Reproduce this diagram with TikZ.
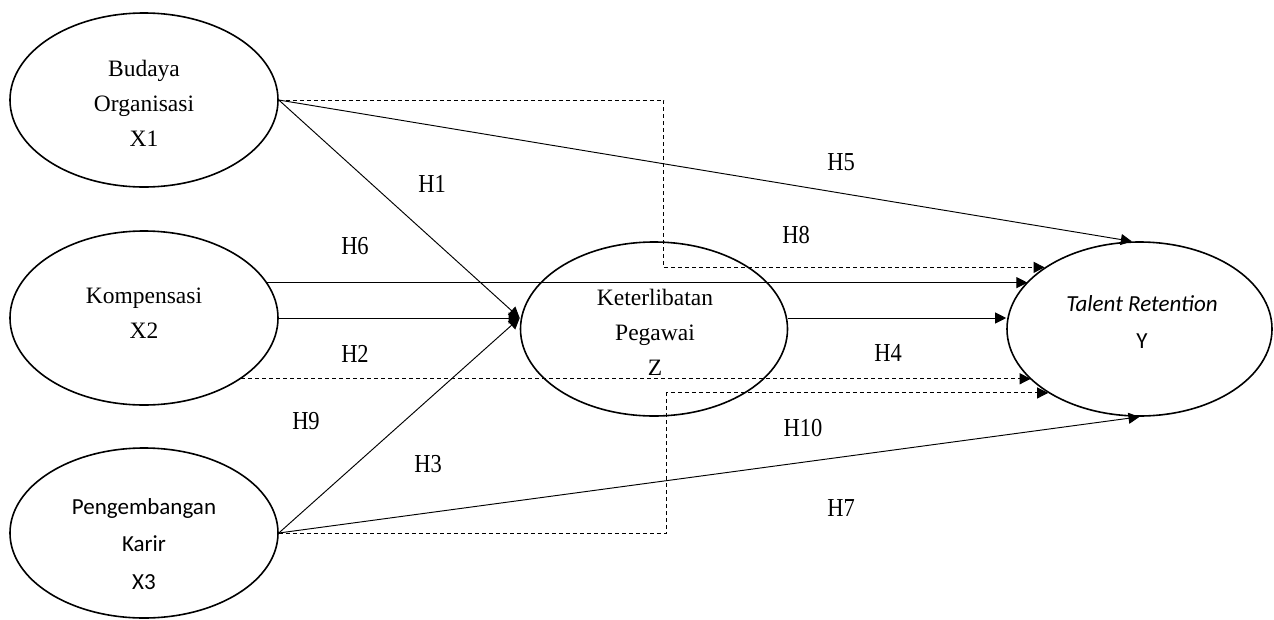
\documentclass[tikz,border=0pt]{standalone}
\usepackage{fontspec}
\setmainfont{Liberation Serif}
\newfontfamily\carlito{Carlito}
\usetikzlibrary{arrows.meta,shapes.geometric,calc}
\begin{document}
\begin{tikzpicture}[x=1pt,y=-1pt,
  var/.style={draw,ellipse,line width=1.6pt,minimum width=268pt,minimum height=174pt,inner sep=0pt},
  txt/.style={align=center,font=\fontsize{23.5}{35}\selectfont,inner sep=0pt},
  stxt/.style={align=center,font=\carlito\fontsize{23}{37.5}\selectfont,inner sep=0pt},
  hyp/.style={font=\fontsize{22.5}{26}\selectfont,inner sep=0pt},
  conn/.style={line width=0.95pt,-{Triangle[length=11pt,width=11pt]}},
  dconn/.style={conn,dash pattern=on 4pt off 3pt},
]
\useasboundingbox (0,0) rectangle (1274,619);
% variables
\node[var] (bo) at (144,100) {};
\node[var] (ko) at (144,318) {};
\node[var,minimum height=170pt] (pk) at (144,533) {};
\node[var,minimum width=267pt] (kp) at (654,329) {};
\node[var,minimum width=265pt] (tr) at (1139.5,329) {};
% texts
\node[txt] (bot) at (144,103) {Budaya\\Organisasi\\X1};
\node[txt] (kot) at (144,313) {Kompensasi\\X2};
\node[stxt] (pkt) at (144,544) {Pengembangan\\Karir\\X3};
\node[txt] (kpt) at (655,332) {Keterlibatan\\Pegawai\\Z};
\node[stxt] (trt) at (1142,322) {\itshape Talent Retention\\\upshape Y};
% convergence point at Z
\coordinate (kin) at (kp.west |- ko.east);
% connectors
\draw[conn] (bo.east) -- (tr.95);
\draw[conn] (bo.east) -- (kin);
\draw[dconn] (bo.east) -- ++(385,0) |- (tr.147);
\draw[conn] (ko.16) -- (ko.16 -| tr.157);
\draw[conn] (ko.east) -- (kin);
\draw[dconn] (ko.328) -- (ko.328 -| tr.205);
\draw[conn] (kp.east |- ko.east) -- (tr.west |- ko.east);
\draw[conn] (pk.east) -- (kin);
\draw[conn] (pk.east) -- (tr.south);
\draw[dconn] (pk.east) -- ++(388,0) |- (tr.215);
% hypothesis labels
\node[hyp] (h1) at (432,184) {\scalebox{1}[1.15]{H1}};
\node[hyp] (h2) at (355,354) {\scalebox{1}[1.15]{H2}};
\node[hyp] (h3) at (428,464) {\scalebox{1}[1.15]{H3}};
\node[hyp] (h4) at (888,353) {\scalebox{1}[1.15]{H4}};
\node[hyp] (h5) at (841,162) {\scalebox{1}[1.15]{H5}};
\node[hyp] (h6) at (355,246) {\scalebox{1}[1.15]{H6}};
\node[hyp] (h7) at (841,508) {\scalebox{1}[1.15]{H7}};
\node[hyp] (h8) at (796,235) {\scalebox{1}[1.15]{H8}};
\node[hyp] (h9) at (306,421) {\scalebox{1}[1.15]{H9}};
\node[hyp] (h10) at (803,428) {\scalebox{1}[1.15]{H10}};
\end{tikzpicture}
\end{document}
